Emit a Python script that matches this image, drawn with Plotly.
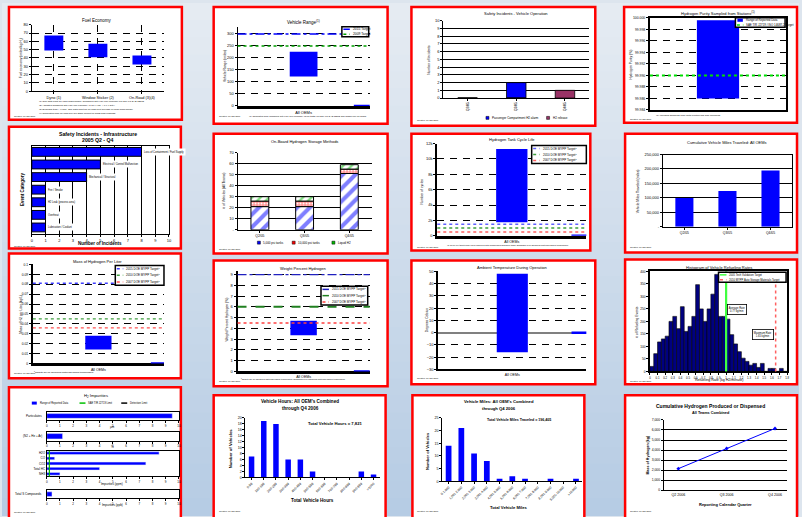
import plotly.graph_objects as go

W, H = 802, 517
FONT = "Arial, 'Liberation Sans', sans-serif"
BLUE = "#0000ff"
NAVY = "#000080"
GREEN = "#00a000"
RED = "#ff0000"
MAROON = "#993366"

# ---------------- data ----------------
fuel_categories = ["Dyno (1)", "Window Sticker (2)", "On-Road (3)(4)"]
fuel_low = [49, 41, 32]
fuel_high = [67, 57, 43]

oem_label = ["All OEMs"]

range_low = [123]
range_high = [226]
range_target_2015 = 300
range_target_2009 = 250

op_quarters = ["Q2/05", "Q3/05", "Q4/05"]
op_h2_alarm = [0, 2, 0]
op_h2_release = [0, 0, 1]

purity_low = [99.986]
purity_high = [99.9996]
purity_target = 99.99

infra_events = ["Loss of Containment / Fuel Supply", "Electrical / Control Malfunction",
                "Mechanical / Structural", "Fire / Smoke", "H2 Leak (process area)",
                "Overheat", "Lubrication / Coolant"]
infra_counts = [8, 5, 4, 1, 1, 1, 1]

storage_quarters = ["Q2/05", "Q3/05", "Q4/05"]
storage_5000 = [21, 21, 51]
storage_10000 = [5, 5, 4]
storage_liquid = [4, 4, 4]

cycle_low = [1750]
cycle_high = [11300]
cycle_targets = [1500, 1000, 500]

vmt_quarters = ["Q2/05", "Q3/05", "Q4/05"]
vmt_miles = [100000, 124000, 195000]
vmt_ticks = [0, 50000, 100000, 150000, 200000, 250000]

mass_low = [0.014]
mass_high = [0.028]
mass_targets = [0.081, 0.045, 0.036]

wt_low = [3.35]
wt_high = [4.7]
wt_targets = [9, 6, 4.5]

temp_low = [-16]
temp_high = [48]

refuel_counts = [20, 71, 118, 130, 141, 200, 220, 171, 259, 160, 180, 220,
                 347, 250, 200, 250, 309, 388, 220, 220, 209, 147, 110, 79,
                 53, 40, 25, 32, 16, 32, 0, 12, 12, 0, 12, 0]
refuel_bin_width = 0.05
refuel_target_2006 = 1.0
refuel_target_2010 = 1.65

hours_bins = ["0-99", "100-199", "200-299", "300-399", "400-499", "500-599",
              "600-699", "700-799", "800-899", "900-999", ">1000"]
hours_vehicles = [7, 19, 18, 6, 6, 2, 0, 0, 0, 2, 1]
hours_total = "7,821"

miles_bins = ["0-1,000", "1,001-2,000", "2,001-3,000", "3,001-4,000", "4,001-5,000",
              "5,001-6,000", "6,001-7,000", "7,001-8,000", "8,001-9,000",
              "9,001-10,000", ">10,000"]
miles_vehicles = [14, 21, 11, 8, 1, 2, 1, 0, 1, 0, 1]
miles_total = "196,405"

h2_quarters = ["Q2 2006", "Q3 2006", "Q4 2006"]
h2_cumulative = [2150, 4150, 6150]

imp_particulate = [9.5]
imp_inert = [1.2]
imp_gases = ["H2O", "CO", "CO2", "Total HC", "NH3"]
imp_gas_ppm = [8.5, 0.6, 7.5, 4.0, 1.0]
imp_sulfur = [0.4]

# ---------------- helpers ----------------
traces, shapes, annotations = [], [], []
layout = {}
_count = [0]


def fx(x):
    return x / W


def fy(y):
    return 1 - y / H


def axes(box, xcfg, ycfg):
    _count[0] += 1
    k = _count[0]
    s = "" if k == 1 else str(k)
    x0, y0, x1, y1 = box
    common = dict(showline=True, linecolor="black", linewidth=1, ticks="outside",
                  ticklen=2, tickwidth=0.8, tickcolor="black", zeroline=False,
                  showgrid=False, tickfont=dict(size=4, family=FONT, color="black"),
                  fixedrange=True)
    xa = dict(common, domain=[fx(x0), fx(x1)], anchor="y" + s)
    xa.update(xcfg)
    ya = dict(common, domain=[fy(y1), fy(y0)], anchor="x" + s)
    ya.update(ycfg)
    layout["xaxis" + s] = xa
    layout["yaxis" + s] = ya
    return "x" + s, "y" + s


def text(x, y, s, size=4, bold=False, xanchor="center", yanchor="middle", angle=0,
         color="black", **kw):
    if bold:
        s = "<b>" + s + "</b>"
    annotations.append(dict(x=fx(x), y=fy(y), xref="paper", yref="paper", text=s,
                            showarrow=False, font=dict(size=size, family=FONT, color=color),
                            xanchor=xanchor, yanchor=yanchor, textangle=angle, **kw))


def pline(x0, y0, x1, y1, color="black", width=1, dash="solid", layer="above"):
    shapes.append(dict(type="line", xref="paper", yref="paper", x0=fx(x0), x1=fx(x1),
                       y0=fy(y0), y1=fy(y1), layer=layer,
                       line=dict(color=color, width=width, dash=dash)))


def prect(x0, y0, x1, y1, fill, line_color="rgba(0,0,0,0)", width=0, layer="above"):
    shapes.append(dict(type="rect", xref="paper", yref="paper", x0=fx(x0), x1=fx(x1),
                       y0=fy(y1), y1=fy(y0), fillcolor=fill, layer=layer,
                       line=dict(color=line_color, width=width)))


def hline(xa, ya, value, color, dash, width=1.5, x0=0, x1=1):
    shapes.append(dict(type="line", xref=xa + " domain", yref=ya, x0=x0, x1=x1,
                       y0=value, y1=value, layer="above",
                       line=dict(color=color, width=width, dash=dash)))


def vline(xa, ya, value, color, dash, width=1.5):
    shapes.append(dict(type="line", xref=xa, yref=ya + " domain", x0=value, x1=value,
                       y0=0, y1=1, layer="above",
                       line=dict(color=color, width=width, dash=dash)))


def legend_box(x0, y0, x1, y1, items, size=3.3):
    prect(x0, y0, x1, y1, "white", "black", 1.5)
    step = (y1 - y0) / len(items)
    for i, (kind, color, dash, label) in enumerate(items):
        yc = y0 + step * (i + 0.5)
        if kind == "line":
            pline(x0 + 1.5, yc, x0 + 8, yc, color, 1.5, dash)
        else:
            prect(x0 + 2, yc - 1.6, x0 + 7.5, yc + 1.6, color)
        text(x0 + 9, yc, label, size=size, xanchor="left")


DASHED = dict(showgrid=True, gridcolor="black", gridwidth=1.3, griddash="7px,6px")
SOLID = dict(showgrid=True, gridcolor="black", gridwidth=1)

# ---------------- background & panels ----------------
top, bot = (229, 235, 242), (182, 204, 228)
bands = 30
for i in range(bands):
    t = i / (bands - 1)
    c = tuple(round(top[j] + (bot[j] - top[j]) * t) for j in range(3))
    prect(0, H * i / bands, W, H * (i + 1) / bands + 1, "rgb(%d,%d,%d)" % c, layer="below")

panels = [(7, 4, 181, 118), (213, 4, 388, 122), (412, 4, 597, 124), (626, 4, 800, 121),
          (7, 125, 180, 248), (213, 132, 388, 253), (412, 132, 592, 250), (627, 132, 800, 252),
          (7, 253, 180, 379), (213, 260, 388, 387), (412, 260, 597, 385), (627, 259, 800, 385),
          (7, 388, 180, 522), (213, 396, 386, 522), (413, 396, 586, 522), (627, 396, 800, 522)]
for p in panels:
    prect(*p, "white", RED, 2.5, layer="below")


def created(x, y, s="Created: 07-Jan-2007"):
    text(x, y, s, size=2.2, xanchor="left")


# ---- Fuel economy ----
xa, ya = axes((30, 22, 163, 89),
              dict(type="category", range=[-0.5, 2.5], tickfont=dict(size=3.8, family=FONT), **DASHED),
              dict(range=[0, 80], dtick=10, **DASHED))
traces.append(go.Bar(x=fuel_categories, y=[h - l for h, l in zip(fuel_high, fuel_low)],
                     base=fuel_low, width=0.43, marker=dict(color=BLUE, line=dict(width=0)),
                     xaxis=xa, yaxis=ya))
text(96, 18, "Fuel Economy", 4.5)
text(20, 55, "Fuel economy (miles/kg H<sub>2</sub>)", 3.3, angle=-90)
notes = ["(1) One data point for each make/model. Combined City/Hwy fuel economy per DRAFT SAE J2572.",
         "(2) Adjusted combined City/Hwy fuel economy (0.78 x Hwy + 0.9 x City).",
         "(3) Excludes trips < 1 mile. One data point for on-road fleet average of each make/model.",
         "(4) Calculated from on-road fuel cell stack current or mass flow readings."]
for i, s in enumerate(notes):
    text(35, 99.5 + i * 4, s, 2.4, xanchor="left")
created(10, 114)

# ---- Vehicle range ----
xa, ya = axes((237, 24, 370, 104),
              dict(type="category", range=[-0.5, 0.5], ticks="", linewidth=2.5,
                   tickfont=dict(size=4, family=FONT)),
              dict(range=[0, 330], tickvals=[0, 50, 100, 150, 200, 250, 300], **DASHED))
traces.append(go.Bar(x=oem_label, y=[h - l for h, l in zip(range_high, range_low)],
                     base=range_low, width=0.21, marker=dict(color=BLUE, line=dict(width=0)),
                     xaxis=xa, yaxis=ya))
hline(xa, ya, range_target_2015, BLUE, "dashdot", 1.5)
hline(xa, ya, range_target_2009, GREEN, "dot", 1.5)
hline(xa, ya, 0, BLUE, "solid", 2.5, x0=0.88)
legend_box(342, 24, 369, 34, [("line", BLUE, "dashdot", "2015 Target"),
                               ("line", GREEN, "dot", "2009 Target")])
text(303, 19, "Vehicle Range<sup>(1)</sup>", 4.5)
text(225, 64, "Vehicle Range (miles)", 3.3, angle=-90)
text(247, 114, "(1) Calculated from combined City/Hwy fuel economy (dyno tests) per DRAFT SAE J2572 and usable fuel on board.",
     2.3, xanchor="left")
created(216, 114)

# ---- Safety incidents: vehicle operation ----
xa, ya = axes((444, 18, 591, 96),
              dict(type="category", range=[-0.5, 2.5], tickangle=-90,
                   tickfont=dict(size=3.2, family=FONT)),
              dict(range=[0, 10], dtick=1, **SOLID))
traces.append(go.Bar(x=op_quarters, y=op_h2_alarm, width=0.4,
                     marker=dict(color=BLUE, line=dict(color="black", width=0.8)), xaxis=xa, yaxis=ya))
traces.append(go.Bar(x=op_quarters, y=op_h2_release, width=0.4,
                     marker=dict(color=MAROON, line=dict(color="black", width=0.8)), xaxis=xa, yaxis=ya))
text(517, 11, "Safety Incidents - Vehicle Operation", 4)
text(430, 57, "Number of Incidents", 3.3, angle=-90)
prect(487, 114.5, 490, 117.5, BLUE, "black", 0.5)
text(491, 116, "Passenger Compartment H2 alarm", 3, xanchor="left")
prect(548, 114.5, 551, 117.5, MAROON, "black", 0.5)
text(552, 116, "H2 release", 3, xanchor="left")
created(416, 118.5)

# ---- Hydrogen purity ----
xa, ya = axes((652, 15, 789, 108),
              dict(type="category", range=[-0.5, 0.5], showticklabels=False, ticks="",
                   mirror=True, linewidth=2),
              dict(range=[99.984, 100.0], dtick=0.002, tickformat=".3f", mirror=True,
                   linewidth=2, tickfont=dict(size=3.4, family=FONT), **DASHED))
traces.append(go.Bar(x=oem_label, y=[h - l for h, l in zip(purity_high, purity_low)],
                     base=purity_low, width=0.31, marker=dict(color=BLUE, line=dict(width=0)),
                     xaxis=xa, yaxis=ya))
hline(xa, ya, purity_target, "#00e000", "dot", 2)
legend_box(738, 15, 788, 24.5, [("box", BLUE, "solid", "Range of Reported Data"),
                                 ("line", "#00e000", "dot", "SAE TIR J2719 / ISO 14687-2 Target")],
           size=2.9)
text(720, 10, "Hydrogen Purity Sampled from Stations<sup>(1)</sup>", 4)
text(633, 62, "Hydrogen Purity (%)", 3.3, angle=-90)
text(656, 114, "(1) Includes sampling from both electrolysis and reforming", 2.5, xanchor="left")
created(630, 117)

# ---- Safety incidents: infrastructure ----
xa, ya = axes((30, 144, 168, 233),
              dict(range=[0, 10], dtick=1, mirror=True, **SOLID),
              dict(type="category", autorange="reversed", showticklabels=False, ticks="",
                   mirror=True))
traces.append(go.Bar(y=infra_events, x=infra_counts, orientation="h", width=0.7,
                     marker=dict(color=BLUE, line=dict(color="black", width=1)),
                     xaxis=xa, yaxis=ya))
for ev, c in zip(infra_events, infra_counts):
    annotations.append(dict(x=c + 0.05, y=ev, xref=xa, yref=ya, text=ev, showarrow=False,
                            xanchor="left", yanchor="middle", bgcolor="white",
                            font=dict(size=2.6, family=FONT, color="black")))
text(97, 132, "Safety Incidents - Infrastructure", 5.2, bold=True)
text(97, 138.5, "2005 Q2 - Q4", 5.2, bold=True)
text(20, 188, "Event Category", 4.5, bold=True, angle=-90)
text(99, 243, "Number of Incidents", 4.5, bold=True)
created(10, 245)

# ---- On-board storage ----
storage_ticks = [0, 10, 20, 30, 40, 50, 60, 70]
xa, ya = axes((237, 151, 372, 229),
              dict(type="category", range=[-0.5, 2.5], tickfont=dict(size=3.4, family=FONT)),
              dict(range=[0, 70], tickvals=storage_ticks,
                   ticktext=["-"] + [str(v) for v in storage_ticks[1:]], **SOLID))
base_liquid = [a + b for a, b in zip(storage_5000, storage_10000)]
traces.append(go.Bar(x=storage_quarters, y=storage_5000, width=0.4,
                     marker=dict(color=BLUE, line=dict(color="black", width=1),
                                 pattern=dict(shape="/", fgcolor=BLUE, bgcolor="white",
                                              size=9, solidity=0.45)),
                     xaxis=xa, yaxis=ya))
traces.append(go.Bar(x=storage_quarters, y=storage_10000, base=storage_5000, width=0.4,
                     marker=dict(color=RED, line=dict(color="black", width=1),
                                 pattern=dict(shape="+", fgcolor=RED, bgcolor="white",
                                              size=3, solidity=0.6)),
                     xaxis=xa, yaxis=ya))
traces.append(go.Bar(x=storage_quarters, y=storage_liquid, base=base_liquid, width=0.4,
                     marker=dict(color="#00c000", line=dict(color="black", width=1),
                                 pattern=dict(shape="/", fgcolor="#00c000", bgcolor="white",
                                              size=6, solidity=0.4)),
                     xaxis=xa, yaxis=ya))
text(304, 140, "On-Board Hydrogen Storage Methods", 4)
text(224, 190, "# of Vehicles (All Teams)", 3.3, angle=-90)
for x0, col, lab in [(257, BLUE, "5,000 psi tanks"), (292, RED, "10,000 psi tanks"),
                     (332, "#00c000", "Liquid H2")]:
    prect(x0, 240.5, x0 + 3, 243.5, col, "black", 0.5)
    text(x0 + 4, 242, lab, 3, xanchor="left")
created(216, 248)

# ---- Tank cycle life ----
xa, ya = axes((438, 142, 588, 235),
              dict(type="category", range=[-0.5, 0.5], ticks="", linewidth=2.5,
                   tickfont=dict(size=3.6, family=FONT)),
              dict(range=[0, 12000], dtick=2000, linewidth=2, **DASHED))
traces.append(go.Bar(x=oem_label, y=[h - l for h, l in zip(cycle_high, cycle_low)],
                     base=cycle_low, width=0.21, marker=dict(color=BLUE, line=dict(width=0)),
                     xaxis=xa, yaxis=ya))
for v, col in zip(cycle_targets, ["#6060ff", "#40a040", "#ff6060"]):
    hline(xa, ya, v, col, "dot", 1.5)
hline(xa, ya, 0, BLUE, "solid", 2.5, x0=0.9)
legend_box(533, 144, 588, 162, [("line", "#6060ff", "dot", "2015 DOE MYPP Target<sup>1</sup>"),
                                 ("line", "#40a040", "dot", "2010 DOE MYPP Target<sup>1</sup>"),
                                 ("line", "#ff6060", "dot", "2007 DOE MYPP Target<sup>1</sup>")], 3)
text(513, 138, "Hydrogen Tank Cycle Life", 4)
text(423, 190, "Number of cycles", 3.3, angle=-90)
text(446, 244, "(1) Cycle life targets have been achieved with compressed hydrogen tanks. Emphasis is on advanced materials-based technologies.",
     2.1, xanchor="left")
created(416, 246)

# ---- Cumulative vehicle miles ----
xa, ya = axes((665, 153, 795, 226),
              dict(type="category", range=[-0.5, 2.5], mirror=True,
                   tickfont=dict(size=3.4, family=FONT)),
              dict(range=[0, 250000], tickvals=vmt_ticks,
                   ticktext=["-"] + ["{:,}".format(v) for v in vmt_ticks[1:]],
                   mirror=True, **SOLID))
traces.append(go.Bar(x=vmt_quarters, y=vmt_miles, width=0.42,
                     marker=dict(color=BLUE, line=dict(width=0)), xaxis=xa, yaxis=ya))
text(730, 141, "Cumulative Vehicle Miles Traveled: All OEMs", 4)
text(640, 190, "Vehicle Miles Traveled (miles)", 3.3, angle=-90)
created(630, 246)

# ---- Mass of hydrogen per liter ----
xa, ya = axes((31, 264, 163, 364),
              dict(type="category", range=[-0.5, 0.5], ticks="", linewidth=2.5,
                   tickfont=dict(size=3.6, family=FONT)),
              dict(range=[0, 0.1], dtick=0.01, linewidth=2,
                   tickfont=dict(size=3.3, family=FONT), **DASHED))
traces.append(go.Bar(x=oem_label, y=[h - l for h, l in zip(mass_high, mass_low)],
                     base=mass_low, width=0.2, marker=dict(color=BLUE, line=dict(width=0)),
                     xaxis=xa, yaxis=ya))
for v, col in zip(mass_targets, ["#4040ff", "#40a040", "#ff5050"]):
    hline(xa, ya, v, col, "dot", 1.3)
hline(xa, ya, 0, BLUE, "solid", 2.5, x0=0.9)
legend_box(114, 265, 163, 285, [("line", "#4040ff", "dot", "2015 DOE MYPP Target<sup>1</sup>"),
                                 ("line", "#40a040", "dot", "2010 DOE MYPP Target<sup>1</sup>"),
                                 ("line", "#ff5050", "dot", "2007 DOE MYPP Target<sup>1</sup>")], 3)
text(96, 261, "Mass of Hydrogen Per Liter", 4)
text(19, 314, "Mass of H2 per Liter (kg/L)", 3.3, angle=-90)
text(30, 373, "<sup>1</sup>Targets are for advanced materials-based technologies.", 2.4, xanchor="left")
created(10, 374)

# ---- Weight percent hydrogen ----
xa, ya = axes((237, 271, 370, 372),
              dict(type="category", range=[-0.5, 0.5], ticks="", linewidth=2.5,
                   tickfont=dict(size=3.6, family=FONT)),
              dict(range=[0, 9.3], dtick=1, linewidth=2, **DASHED))
traces.append(go.Bar(x=oem_label, y=[h - l for h, l in zip(wt_high, wt_low)],
                     base=wt_low, width=0.2, marker=dict(color=BLUE, line=dict(width=0)),
                     xaxis=xa, yaxis=ya))
hline(xa, ya, wt_targets[0], "#2020c0", "dashdot", 1.4)
hline(xa, ya, wt_targets[1], "#208020", "dash", 2)
hline(xa, ya, wt_targets[2], "#ff4040", "dot", 1.3)
hline(xa, ya, 0, BLUE, "solid", 2.5, x0=0.88)
legend_box(321, 286, 368, 305, [("line", "#2020c0", "dashdot", "2015 DOE MYPP Target<sup>1</sup>"),
                                 ("line", "#208020", "dash", "2010 DOE MYPP Target<sup>1</sup>"),
                                 ("line", "#ff4040", "dot", "2007 DOE MYPP Target<sup>1</sup>")], 3)
text(303, 268, "Weight Percent Hydrogen", 4)
text(226, 320, "Weight Percent Hydrogen (%)", 3.3, angle=-90)
text(238, 380, "<sup>1</sup>Targets are for advanced materials-based technologies. Emphasis is on advanced materials-based technologies.",
     2.1, xanchor="left")
created(216, 382)

# ---- Ambient temperature ----
xa, ya = axes((439, 271, 588, 370),
              dict(type="category", range=[-0.5, 0.5], ticks="", linewidth=2,
                   tickfont=dict(size=3.6, family=FONT)),
              dict(range=[-30, 50], dtick=10, linewidth=2, zeroline=True,
                   zerolinecolor="#808080", zerolinewidth=2, **DASHED))
traces.append(go.Bar(x=oem_label, y=[h - l for h, l in zip(temp_high, temp_low)],
                     base=temp_low, width=0.21, marker=dict(color=BLUE, line=dict(width=0)),
                     xaxis=xa, yaxis=ya))
hline(xa, ya, 0, BLUE, "solid", 2.5, x0=0.9)
text(513, 267, "Ambient Temperature During Operation", 4)
text(428, 320, "Degrees Celsius", 3.3, angle=-90)
created(416, 379)

# ---- Refueling rate histogram ----
refuel_centers = [refuel_bin_width * (i + 0.5) for i in range(len(refuel_counts))]
xa, ya = axes((652, 271, 790, 372),
              dict(range=[0, 1.8], dtick=0.1, mirror=True, linewidth=1.5,
                   tickfont=dict(size=2.8, family=FONT)),
              dict(range=[0, 400], dtick=50, mirror=True, linewidth=1.5,
                   tickfont=dict(size=3.2, family=FONT)))
traces.append(go.Bar(x=refuel_centers, y=refuel_counts, width=refuel_bin_width,
                     marker=dict(color=NAVY, line=dict(color="black", width=0.6)),
                     xaxis=xa, yaxis=ya))
vline(xa, ya, refuel_target_2006, "#40ff40", "solid", 2.2)
vline(xa, ya, refuel_target_2010, "#ff6060", "dot", 1.5)
legend_box(721, 272, 789, 282, [("line", "#40ff40", "solid", "2005 Tech Validation Target"),
                                 ("line", "#ff6060", "dot", "2010 MYPP Auto Storage Materials Target")],
           2.7)
text(740, 309.5, "Average Rate<br>0.77 kg/min", 2.6, bordercolor="black", borderwidth=0.8,
     bgcolor="white")
text(766, 334.5, "Maximum Rate<br>1.65 kg/min", 2.6, bordercolor="black", borderwidth=0.8,
     bgcolor="white")
text(721, 267, "Histogram of Vehicle Refueling Rates", 4)
text(639, 322, "# of Refueling Events", 3.3, angle=-90)
text(721, 380.5, "Refueling Rate (kg H2/minute)", 3.6)
created(630, 382)

# ---- Hydrogen impurities ----
text(95, 397, "H<sub>2</sub> Impurities", 4.2)
prect(30, 402.5, 35, 405.5, BLUE)
text(36, 404, "Range of Reported Data", 2.6, xanchor="left")
pline(78, 404, 84, 404, "#00c000", 1.5)
text(85, 404, "SAE TIR J2719 Limit", 2.6, xanchor="left")
pline(120, 404, 126, 404, "black", 1.5)
text(127, 404, "Detection Limit", 2.6, xanchor="left")

xa, ya = axes((45, 413, 178, 421),
              dict(range=[0, 10], dtick=1, mirror=True, tickfont=dict(size=3, family=FONT)),
              dict(type="category", showticklabels=False, ticks="", mirror=True))
traces.append(go.Bar(y=["Particulates"], x=imp_particulate, orientation="h", width=0.6,
                     marker=dict(color=BLUE), xaxis=xa, yaxis=ya))
text(42, 417, "Particulates", 3, xanchor="right")
text(111, 428, "µm", 3)

xa, ya = axes((45, 433, 178, 442),
              dict(range=[0, 10], dtick=1, mirror=True, tickfont=dict(size=3, family=FONT)),
              dict(type="category", showticklabels=False, ticks="", mirror=True))
traces.append(go.Bar(y=["Inert"], x=imp_inert, orientation="h", width=0.6,
                     marker=dict(color=BLUE), xaxis=xa, yaxis=ya))
text(42, 437.5, "(N2 + He + Ar)", 3, xanchor="right")
text(111, 448.5, "%", 3)

xa, ya = axes((45, 452, 178, 478),
              dict(range=[0, 10], dtick=1, mirror=True, tickfont=dict(size=3, family=FONT)),
              dict(type="category", autorange="reversed", mirror=True, ticks="",
                   tickfont=dict(size=3, family=FONT)))
traces.append(go.Bar(y=imp_gases, x=imp_gas_ppm, orientation="h", width=0.55,
                     marker=dict(color=BLUE), xaxis=xa, yaxis=ya))
vline(xa, ya, 0.2, "#00c000", "solid", 1.2)
text(111, 486, "Impurities (ppm)", 3)

xa, ya = axes((45, 492, 178, 500),
              dict(range=[0, 10], dtick=1, mirror=True, tickfont=dict(size=3, family=FONT)),
              dict(type="category", showticklabels=False, ticks="", mirror=True))
traces.append(go.Bar(y=["Sulfur"], x=imp_sulfur, orientation="h", width=0.6,
                     marker=dict(color=BLUE), xaxis=xa, yaxis=ya))
text(42, 496, "Total S Compounds", 3, xanchor="right")
text(111, 507, "Impurities (ppb)", 3)
created(10, 514)

# ---- Vehicle hours ----
xa, ya = axes((245, 419, 380, 479),
              dict(type="category", tickangle=-45, tickfont=dict(size=3.4, family=FONT)),
              dict(range=[0, 20], dtick=2, tickfont=dict(size=3.6, family=FONT)))
traces.append(go.Bar(x=hours_bins, y=hours_vehicles, width=0.45,
                     marker=dict(color=BLUE, line=dict(width=0)), xaxis=xa, yaxis=ya))
text(300, 402, "Vehicle Hours: All OEM's Combined", 4.6, bold=True)
text(300, 409, "through Q4 2006", 4.6, bold=True)
text(335, 425, "Total Vehicle Hours = " + hours_total, 4.2, bold=True)
text(230, 450, "Number of Vehicles", 4.2, bold=True, angle=-90)
text(312, 502, "Total Vehicle Hours", 4.6, bold=True)
created(216, 513)

# ---- Vehicle miles ----
xa, ya = axes((443, 419, 584, 483),
              dict(type="category", tickangle=-45, tickfont=dict(size=3.2, family=FONT)),
              dict(range=[0, 25], dtick=5, tickfont=dict(size=3.6, family=FONT)))
traces.append(go.Bar(x=miles_bins, y=miles_vehicles, width=0.45,
                     marker=dict(color=BLUE, line=dict(width=0)), xaxis=xa, yaxis=ya))
text(500, 402, "Vehicle Miles: All OEM's Combined", 4.2, bold=True)
text(500, 409, "through Q4 2006", 4.2, bold=True)
text(520, 421, "Total Vehicle Miles Traveled = " + miles_total, 3.6, bold=True)
text(428, 452, "Number of Vehicles", 4, bold=True, angle=-90)
text(510, 509, "Total Vehicle Miles", 4.2, bold=True)
created(416, 513)

# ---- Cumulative hydrogen ----
xa, ya = axes((666, 421, 790, 492),
              dict(type="category", range=[-0.3, 2.25], ticks="",
                   tickfont=dict(size=3.6, family=FONT)),
              dict(range=[0, 7000], dtick=1000, tickformat=",",
                   tickfont=dict(size=3.4, family=FONT), **SOLID))
traces.append(go.Scatter(x=h2_quarters, y=h2_cumulative, mode="lines+markers",
                         line=dict(color=BLUE, width=1),
                         marker=dict(color=BLUE, size=3, symbol="diamond"),
                         xaxis=xa, yaxis=ya))
text(713, 407, "Cumulative Hydrogen Produced or Dispensed", 5, bold=True)
text(713, 414, "All Teams Combined", 3.8, bold=True)
text(650, 456, "Mass of Hydrogen (kg)", 3.6, bold=True, angle=-90)
text(728, 506, "Reporting Calendar Quarter", 4, bold=True)
created(630, 513)

layout.update(width=W, height=H, margin=dict(l=0, r=0, t=0, b=0),
              paper_bgcolor="#dde5ee", plot_bgcolor="rgba(0,0,0,0)",
              showlegend=False, barmode="overlay",
              font=dict(family=FONT, size=4, color="black"),
              shapes=shapes, annotations=annotations)

fig = go.Figure(data=traces, layout=layout)
fig.write_html("out.html")
